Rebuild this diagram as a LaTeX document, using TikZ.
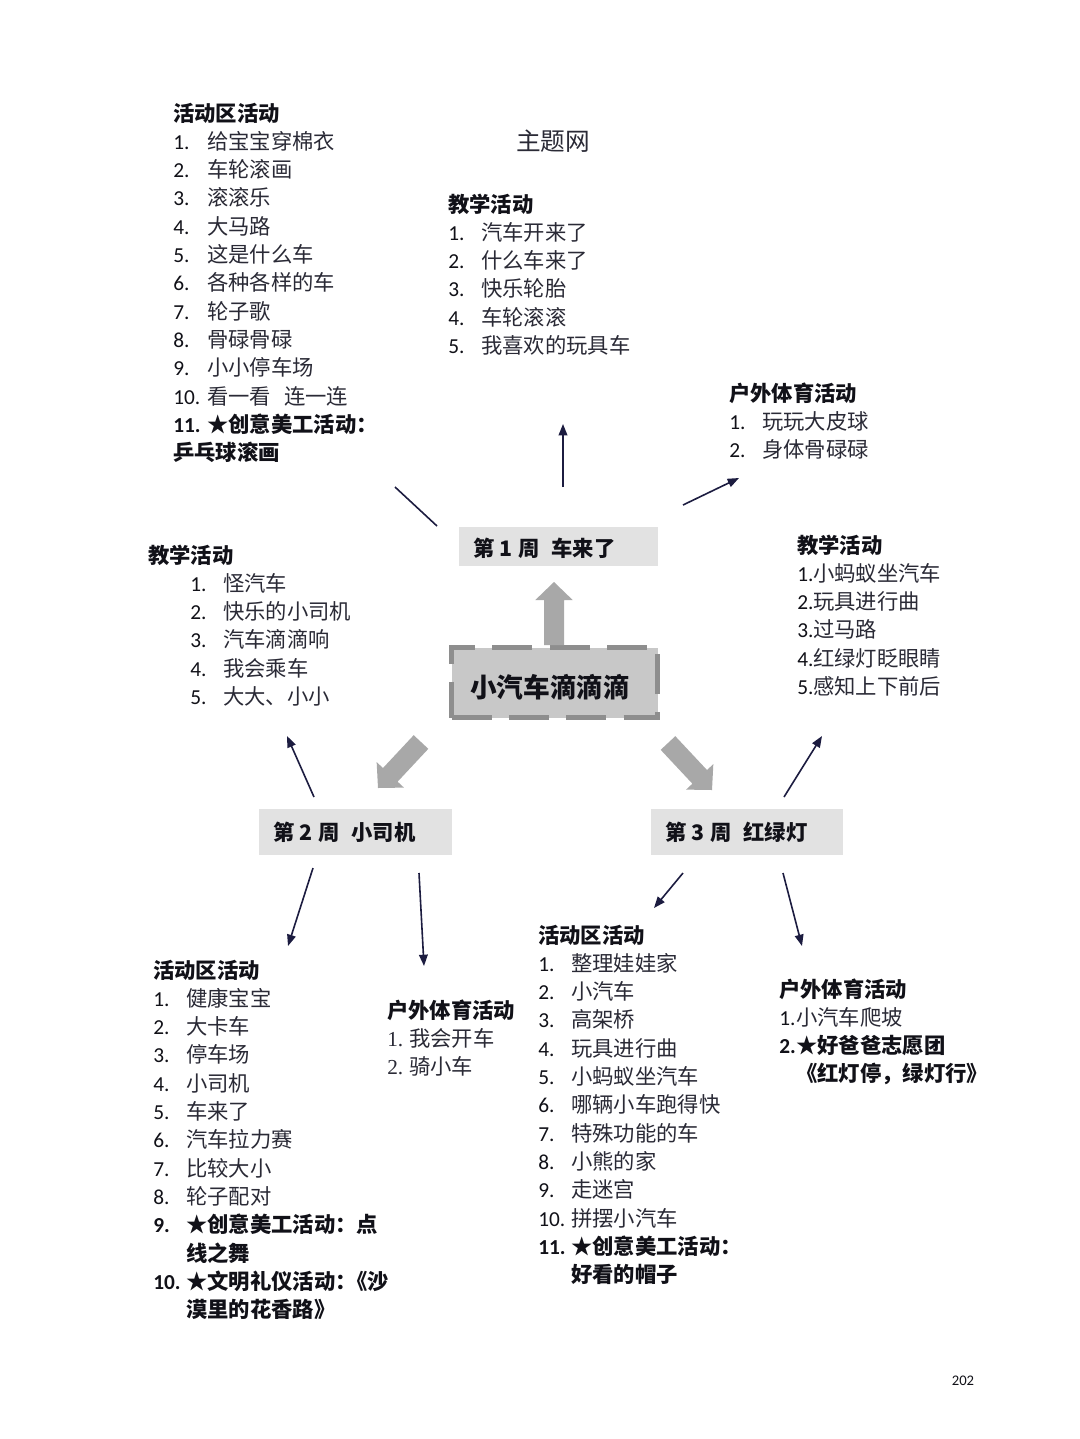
\documentclass[tikz,border=0pt]{standalone}
\usepackage{fontspec}
\setmainfont{Carlito}
\newfontfamily\cjk{Noto Sans CJK SC}
\newfontfamily\serifnum{Liberation Serif}
\usetikzlibrary{calc,arrows.meta}
\definecolor{headcol}{HTML}{111118}
\definecolor{itemcol}{HTML}{2A2A36}
\definecolor{linecol}{HTML}{1C1C40}
\definecolor{wkfill}{HTML}{E2E2E2}
\definecolor{ctrfill}{HTML}{C8C8C8}
\definecolor{ctrdraw}{HTML}{8E8E8E}
\definecolor{arrfill}{HTML}{A8A8A8}
\newcommand\blockarr[3]{%
  \coordinate (#1t) at (#2);
  \coordinate (#1h) at (#3);
  \coordinate (#1b) at ($(#1h)!13.5pt!(#1t)$);
  \fill[arrfill] ($(#1t)!7.5pt!90:(#1h)$) -- ($(#1b)!7.5pt!90:(#1h)$) -- ($(#1b)!14pt!90:(#1h)$) -- (#1h) -- ($(#1b)!14pt!-90:(#1h)$) -- ($(#1b)!7.5pt!-90:(#1h)$) -- ($(#1t)!7.5pt!-90:(#1h)$) -- cycle;}
\begin{document}
\begin{tikzpicture}[x=0.75pt,y=-0.75pt,
  base/.style={anchor=west, inner sep=0pt, text height=14pt, text depth=2pt},
  head/.style={base, text=headcol, font=\cjk\bfseries\fontsize{16}{19}\selectfont},
  itemtxt/.style={base, text=itemcol, font=\cjk\fontsize{16}{19}\selectfont},
  boldtxt/.style={base, text=headcol, font=\cjk\bfseries\fontsize{16}{19}\selectfont},
  num/.style={base, text=headcol, font=\fontsize{16}{19}\selectfont},
  boldnum/.style={base, text=headcol, font=\bfseries\fontsize{16}{19}\selectfont},
  snum/.style={base, text=itemcol, font=\serifnum\fontsize{16}{19}\selectfont},
  wkbox/.style={fill=wkfill, draw=none, inner sep=0pt},
  wktxt/.style={base, text=headcol, font=\cjk\bfseries\fontsize{16}{19}\selectfont},
  conn/.style={draw=linecol, line width=1.2pt},
  arr/.style={conn, -{Triangle[length=8.5pt,width=6.5pt]}}
]
\useasboundingbox (0,0) rectangle (1080,1439);
\fill[white] (0,0) rectangle (1080,1439);

% title
\node[base, text=itemcol, font=\cjk\fontsize{18.5}{22}\selectfont] (title) at (516,142) {主题网};

% week boxes
\node[wkbox, minimum width=149.25pt, minimum height=29.25pt] (w1) at (558.5,546.5) {};
\node[wktxt] (w1t) at (473,548) {第\hspace{4pt}1\hspace{4pt}周\hspace{9pt}车来了};
\node[wkbox, minimum width=144.75pt, minimum height=34.5pt] (w2) at (355.5,832) {};
\node[wktxt] (w2t) at (273,832) {第\hspace{4pt}2\hspace{4pt}周\hspace{9pt}小司机};
\node[wkbox, minimum width=144pt, minimum height=34.5pt] (w3) at (747,832) {};
\node[wktxt] (w3t) at (665,832) {第\hspace{4pt}3\hspace{4pt}周\hspace{9pt}红绿灯};

% centre box
\node[fill=ctrfill, draw=ctrdraw, line width=3.75pt, dash pattern=on 30pt off 13pt,
      minimum width=154.5pt, minimum height=52.5pt, inner sep=0pt] (ctr) at (554.5,682.5) {};
\node[inner sep=0pt, text height=17.5pt, text depth=2.5pt, text=headcol,
      font=\cjk\bfseries\fontsize{20}{24}\selectfont] (ctrt) at (550,687) {小汽车滴滴滴};

% block arrows
\blockarr{ua}{554,645}{554,582}
\blockarr{la}{421,742}{378,788}
\blockarr{ra}{668,743}{712,790}

% thin connectors
\coordinate (c1a) at (437,526); \coordinate (c1b) at (395,487);
\coordinate (c2a) at (563,487); \coordinate (c2b) at (563,424);
\coordinate (c3a) at (683,505); \coordinate (c3b) at (739,478);
\coordinate (c4a) at (314,797); \coordinate (c4b) at (287,736);
\coordinate (c5a) at (784,797); \coordinate (c5b) at (822,736);
\coordinate (c6a) at (313,868); \coordinate (c6b) at (288,946);
\coordinate (c7a) at (419,873); \coordinate (c7b) at (424,966);
\coordinate (c8a) at (683,873); \coordinate (c8b) at (654,908);
\coordinate (c9a) at (783,873); \coordinate (c9b) at (802,946);
\draw[conn] (c1a) -- (c1b);
\draw[arr] (c2a) -- (c2b);
\draw[arr] (c3a) -- (c3b);
\draw[arr] (c4a) -- (c4b);
\draw[arr] (c5a) -- (c5b);
\draw[arr] (c6a) -- (c6b);
\draw[arr] (c7a) -- (c7b);
\draw[arr] (c8a) -- (c8b);
\draw[arr] (c9a) -- (c9b);

% block 1: top-left
\node[head] (b1h) at (173,113) {活动区活动};
\foreach \t [count=\i] in {给宝宝穿棉衣,车轮滚画,滚滚乐,大马路,这是什么车,各种各样的车,轮子歌,骨碌骨碌,小小停车场,看一看\hspace{0.6em}连一连}{
  \node[num] (b1n\i) at (173,{113+28.3*\i}) {\i.};
  \node[itemtxt] (b1t\i) at (207,{113+28.3*\i}) {\t};
}
\node[boldnum] (b1n11) at (173,424.3) {11.};
\node[boldtxt] (b1t11) at (207,424.3) {★创意美工活动：};
\node[boldtxt] (b1t12) at (173,452.6) {乒乓球滚画};

% block 2: top centre
\node[head] (b2h) at (448,204) {教学活动};
\foreach \t [count=\i] in {汽车开来了,什么车来了,快乐轮胎,车轮滚滚,我喜欢的玩具车}{
  \node[num] (b2n\i) at (448,{204+28.3*\i}) {\i.};
  \node[itemtxt] (b2t\i) at (481,{204+28.3*\i}) {\t};
}

% block 3: top right
\node[head] (b3h) at (729,393) {户外体育活动};
\foreach \t [count=\i] in {玩玩大皮球,身体骨碌碌}{
  \node[num] (b3n\i) at (729,{393+28.3*\i}) {\i.};
  \node[itemtxt] (b3t\i) at (762,{393+28.3*\i}) {\t};
}

% block 4: middle left
\node[head] (b4h) at (148,555) {教学活动};
\foreach \t [count=\i] in {怪汽车,快乐的小司机,汽车滴滴响,我会乘车,大大、小小}{
  \node[num] (b4n\i) at (190,{555+28.3*\i}) {\i.};
  \node[itemtxt] (b4t\i) at (223,{555+28.3*\i}) {\t};
}

% block 5: middle right
\node[head] (b5h) at (797,545) {教学活动};
\foreach \t [count=\i] in {小蚂蚁坐汽车,玩具进行曲,过马路,红绿灯眨眼睛,感知上下前后}{
  \node[num] (b5n\i) at (797,{545+28.3*\i}) {\i.};
  \node[itemtxt] (b5t\i) at (813,{545+28.3*\i}) {\t};
}

% block 6: bottom left
\node[head] (b6h) at (153,970) {活动区活动};
\foreach \t [count=\i] in {健康宝宝,大卡车,停车场,小司机,车来了,汽车拉力赛,比较大小,轮子配对}{
  \node[num] (b6n\i) at (153,{970+28.3*\i}) {\i.};
  \node[itemtxt] (b6t\i) at (186,{970+28.3*\i}) {\t};
}
\node[boldnum] (b6n9) at (153,1224.7) {9.};
\node[boldtxt] (b6t9) at (186,1224.7) {★创意美工活动：点};
\node[boldtxt] (b6t9b) at (186,1253) {线之舞};
\node[boldnum] (b6n10) at (153,1281.3) {10.};
\node[boldtxt] (b6t10) at (186,1281.3) {★文明礼仪活动：\hspace{-0.5em}《沙};
\node[boldtxt] (b6t10b) at (186,1309.6) {漠里的花香路》};

% block 7: bottom, second column
\node[head] (b7h) at (387,1010) {户外体育活动};
\foreach \t [count=\i] in {我会开车,骑小车}{
  \node[snum] (b7n\i) at (387,{1010+28.3*\i}) {\i.};
  \node[itemtxt] (b7t\i) at (409,{1010+28.3*\i}) {\t};
}

% block 8: bottom, third column
\node[head] (b8h) at (538,935) {活动区活动};
\foreach \t [count=\i] in {整理娃娃家,小汽车,高架桥,玩具进行曲,小蚂蚁坐汽车,哪辆小车跑得快,特殊功能的车,小熊的家,走迷宫,拼摆小汽车}{
  \node[num] (b8n\i) at (538,{935+28.3*\i}) {\i.};
  \node[itemtxt] (b8t\i) at (571,{935+28.3*\i}) {\t};
}
\node[boldnum] (b8n11) at (538,1246.3) {11.};
\node[boldtxt] (b8t11) at (571,1246.3) {★创意美工活动：};
\node[boldtxt] (b8t12) at (571,1274.6) {好看的帽子};

% block 9: bottom right
\node[head] (b9h) at (779,989) {户外体育活动};
\node[num] (b9n1) at (779,1017.3) {1.};
\node[itemtxt] (b9t1) at (796,1017.3) {小汽车爬坡};
\node[boldnum] (b9n2) at (779,1045.6) {2.};
\node[boldtxt] (b9t2) at (796,1045.6) {★好爸爸志愿团};
\node[boldtxt] (b9t3) at (796,1073.9) {《红灯停，绿灯行》};

% page number
\node[inner sep=0pt, text=headcol, font=\fontsize{11}{13}\selectfont] (pg) at (963,1381) {202};
\end{tikzpicture}
\end{document}
